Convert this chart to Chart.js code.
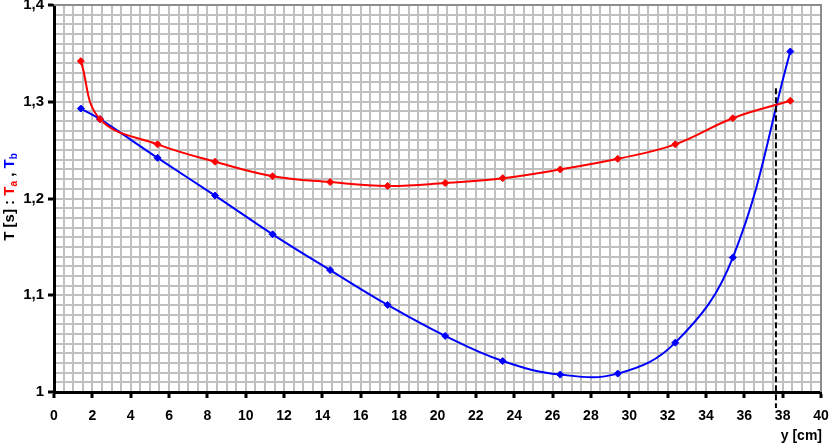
<!DOCTYPE html>
<html>
<head>
<meta charset="utf-8">
<script src="https://cdn.jsdelivr.net/npm/chart.js@4/dist/chart.umd.min.js"></script>
<style>
  html, body { margin: 0; padding: 0; background: #fff; }
  #wrap { width: 829px; height: 445px; }
</style>
</head>
<body>
<div id="wrap"><canvas id="c"></canvas></div>
<script>
// ── DATA ────────────────────────────────────────────
const yPos = [1.4, 2.4, 5.4, 8.4, 11.4, 14.4, 17.4, 20.4, 23.4, 26.4, 29.4, 32.4, 35.4, 38.4];
const Ta = [1.342, 1.282, 1.256, 1.238, 1.223, 1.217, 1.213, 1.216, 1.221, 1.230, 1.241, 1.256, 1.283, 1.301];
const Tb = [1.293, 1.282, 1.242, 1.203, 1.163, 1.126, 1.090, 1.058, 1.032, 1.018, 1.019, 1.051, 1.139, 1.352];
const xLabels = [0, 2, 4, 6, 8, 10, 12, 14, 16, 18, 20, 22, 24, 26, 28, 30, 32, 34, 36, 38, 40];
const yLabels = [1, 1.1, 1.2, 1.3, 1.4];
const crossing = { x: 37.65, y: 1.314 };

const FONT = '"Liberation Sans", Arial, sans-serif';

const isXMajor = v => xLabels.some(l => Math.abs(l - v) < 1e-6);
const isYMajor = v => yLabels.some(l => Math.abs(l - v) < 1e-6);
const fmt = v => String(+v.toFixed(2)).replace('.', ',');

// ── EXTRAS: frame, crossing line, axis titles ───────
const extras = {
  id: 'extras',
  beforeDatasetsDraw(chart) {
    const { ctx, chartArea: a } = chart;
    ctx.save();
    ctx.strokeStyle = '#8c8c8c';
    ctx.lineWidth = 2;
    ctx.beginPath();
    ctx.moveTo(a.left, a.top);
    ctx.lineTo(a.right, a.top);
    ctx.lineTo(a.right, a.bottom);
    ctx.stroke();
    ctx.restore();
  },
  afterDatasetsDraw(chart) {
    const { ctx, chartArea: a, scales } = chart;
    const px = scales.x.getPixelForValue(crossing.x);
    const py = scales.y.getPixelForValue(crossing.y);
    ctx.save();
    ctx.strokeStyle = '#000';
    ctx.lineWidth = 2;
    ctx.setLineDash([6, 3]);
    ctx.beginPath();
    ctx.moveTo(px, py);
    ctx.lineTo(px, a.bottom + 16);
    ctx.stroke();
    ctx.restore();
  },
  afterDraw(chart) {
    const { ctx } = chart;
    ctx.save();
    // x title
    ctx.font = 'bold 14px ' + FONT;
    ctx.fillStyle = '#000';
    ctx.textAlign = 'right';
    ctx.textBaseline = 'alphabetic';
    ctx.fillText('y [cm]', 822, 440);

    // y title, rotated, multi-colour
    const parts = [
      { t: 'T [s] : ', c: '#000', sub: false },
      { t: 'T', c: '#ff0000', sub: false },
      { t: 'a', c: '#ff0000', sub: true },
      { t: ' , ', c: '#000', sub: false },
      { t: 'T', c: '#0000ff', sub: false },
      { t: 'b', c: '#0000ff', sub: true },
    ];
    const big = 'bold 15px ' + FONT, small = 'bold 10px ' + FONT;
    let total = 0;
    parts.forEach(p => { ctx.font = p.sub ? small : big; p.w = ctx.measureText(p.t).width; total += p.w; });
    ctx.translate(14, 197);
    ctx.rotate(-Math.PI / 2);
    let x = -total / 2;
    ctx.textAlign = 'left';
    parts.forEach(p => {
      ctx.font = p.sub ? small : big;
      ctx.fillStyle = p.c;
      ctx.fillText(p.t, x, p.sub ? 3 : 0);
      x += p.w;
    });
    ctx.restore();
  }
};

// ── CHART ───────────────────────────────────────────
const line = (data, col) => ({
  data: yPos.map((x, i) => ({ x, y: data[i] })),
  borderColor: col,
  backgroundColor: col,
  borderWidth: 2,
  pointStyle: 'rectRot',
  pointRadius: 3.5,
  pointBorderWidth: 1,
  tension: 0.4,
  fill: false
});

new Chart(document.getElementById('c'), {
  type: 'scatter',
  data: {
    datasets: [line(Ta, '#ff0000'), line(Tb, '#0000ff')]
  },
  options: {
    responsive: true,
    maintainAspectRatio: false,
    animation: false,
    showLine: true,
    layout: { padding: { top: 5, right: 8, bottom: 0, left: 0 } },
    plugins: { legend: { display: false }, tooltip: { enabled: false } },
    scales: {
      x: {
        type: 'linear',
        min: 0, max: 40,
        afterFit: s => { s.height = 53; s.paddingLeft = 0; s.paddingRight = 0; },
        border: { color: '#000', width: 3 },
        grid: {
          color: '#c0c0c0',
          lineWidth: 2,
          tickLength: 6,
          tickWidth: 3,
          tickColor: c => (c.tick && isXMajor(c.tick.value)) ? '#000' : 'rgba(0,0,0,0)'
        },
        ticks: {
          stepSize: 0.5,
          autoSkip: false,
          maxRotation: 0,
          maxTicksLimit: 200,
          padding: 10,
          color: '#000',
          font: { family: FONT, size: 14, weight: 'bold' },
          callback: v => isXMajor(v) ? String(Math.round(v)) : ''
        }
      },
      y: {
        type: 'linear',
        min: 1, max: 1.4,
        afterFit: s => { s.width = 54; s.paddingTop = 0; s.paddingBottom = 0; },
        border: { color: '#000', width: 3 },
        grid: {
          color: '#c0c0c0',
          lineWidth: 2,
          tickLength: 6,
          tickWidth: 3,
          tickColor: c => (c.tick && isYMajor(c.tick.value)) ? '#000' : 'rgba(0,0,0,0)'
        },
        ticks: {
          stepSize: 0.01,
          autoSkip: false,
          maxTicksLimit: 200,
          padding: 4,
          color: '#000',
          font: { family: FONT, size: 15, weight: 'bold' },
          callback: v => isYMajor(v) ? fmt(v) : ''
        }
      }
    }
  },
  plugins: [extras]
});
</script>
</body>
</html>
